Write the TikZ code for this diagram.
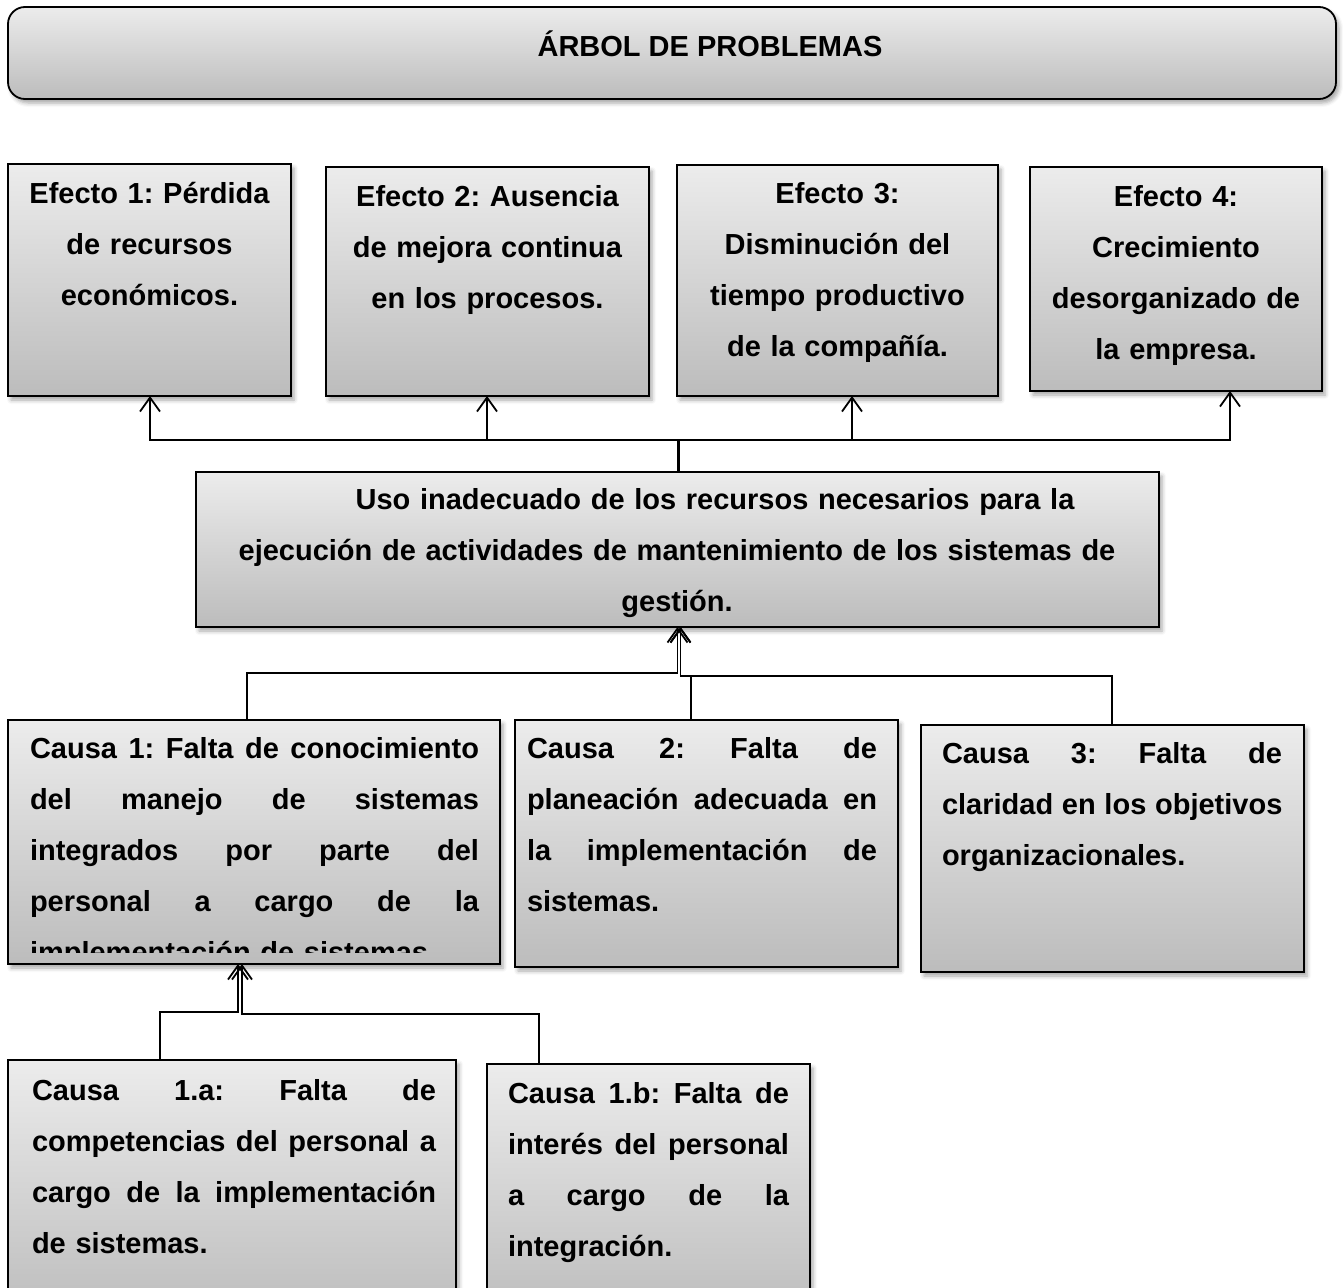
\documentclass[tikz,border=0pt]{standalone}
\usepackage{fontspec}
\setmainfont{Liberation Sans}
\usetikzlibrary{arrows.meta,shadows.blur,calc}
\definecolor{boxtop}{HTML}{ECECEC}
\definecolor{boxbot}{HTML}{BCBCBC}
\newcommand{\jl}[2]{\leavevmode\hbox to #1{\spaceskip=0.3em plus 10em\relax #2}}
\tikzset{
  box/.style={draw=black, line width=1.8pt, inner sep=0pt, outer sep=0pt,
    top color=boxtop, bottom color=boxbot, anchor=north west,
    blur shadow={shadow xshift=3pt, shadow yshift=-4pt, shadow blur radius=4pt, shadow opacity=35}},
  titlebox/.style={box, rounded corners=17pt},
  txt/.style={inner sep=0pt, outer sep=0pt, font=\frenchspacing\bfseries\fontsize{29}{51}\selectfont},
  ctxt/.style={txt, anchor=base, align=center},
  jtxt/.style={txt, anchor=base west, align=left},
  conn/.style={draw=black, line width=1.8pt, line join=miter},
  arr/.style={conn, -{Straight Barb[length=14pt,width=20pt]}}
}
\begin{document}
\begin{tikzpicture}[x=1pt,y=-1pt]
\useasboundingbox (0,0) rectangle (1343,1287);
% title
\node[titlebox, minimum width=1328pt, minimum height=92pt] (title) at (8,7) {};
\node[ctxt] (titlet) at (710,57) {ÁRBOL DE PROBLEMAS};
% effects
\node[box, minimum width=283pt, minimum height=232pt] (e1) at (8,164) {};
\node[box, minimum width=323pt, minimum height=229pt] (e2) at (326,167) {};
\node[box, minimum width=321pt, minimum height=231pt] (e3) at (677,165) {};
\node[box, minimum width=292pt, minimum height=224pt] (e4) at (1030,167) {};
\node[ctxt, text width=270pt] (e1t) at (149.5,203) {Efecto 1: Pérdida\\de recursos\\económicos.};
\node[ctxt, text width=310pt] (e2t) at (487.5,206) {Efecto 2: Ausencia\\de mejora continua\\en los procesos.};
\node[ctxt, text width=310pt] (e3t) at (837.5,203) {Efecto 3:\\Disminución del\\tiempo productivo\\de la compañía.};
\node[ctxt, text width=285pt] (e4t) at (1176,206) {Efecto 4:\\Crecimiento\\desorganizado de\\la empresa.};
% central problem
\node[box, minimum width=963pt, minimum height=155pt] (cen) at (196,472) {};
\node[ctxt, text width=950pt] (cent) at (677,509) {\hspace*{76pt}Uso inadecuado de los recursos necesarios para la\\ejecución de actividades de mantenimiento de los sistemas de\\gestión.};
% causes
\node[box, minimum width=492pt, minimum height=244pt] (c1) at (8,720) {};
\node[box, minimum width=383pt, minimum height=247pt] (c2) at (515,720) {};
\node[box, minimum width=383pt, minimum height=247pt] (c3) at (921,725) {};
\begin{scope}
\clip (8,720) rectangle (500,952);
\node[jtxt, text width=449pt] (c1t) at (30,758) {\jl{449pt}{Causa 1: Falta de conocimiento}\\\jl{449pt}{del manejo de sistemas}\\\jl{449pt}{integrados por parte del}\\\jl{449pt}{personal a cargo de la}\\implementación de sistemas.};
\end{scope}
\node[jtxt, text width=350pt] (c2t) at (527,758) {\jl{350pt}{Causa 2: Falta de}\\\jl{350pt}{planeación adecuada en}\\\jl{350pt}{la implementación de}\\sistemas.};
\node[jtxt, text width=340pt] (c3t) at (942,763) {\jl{340pt}{Causa 3: Falta de}\\\jl{340pt}{claridad en los objetivos}\\organizacionales.};
% sub-causes
\node[box, minimum width=448pt, minimum height=260pt] (c1a) at (8,1060) {};
\node[box, minimum width=323pt, minimum height=256pt] (c1b) at (487,1064) {};
\node[jtxt, text width=404pt] (c1at) at (32,1100) {\jl{404pt}{Causa 1.a: Falta de}\\\jl{404pt}{competencias del personal a}\\\jl{404pt}{cargo de la implementación}\\de sistemas.};
\node[jtxt, text width=281pt] (c1bt) at (508,1103) {\jl{281pt}{Causa 1.b: Falta de}\\\jl{281pt}{interés del personal}\\\jl{281pt}{a cargo de la}\\integración.};
% connectors: central -> effects
\coordinate (ha1) at (150,440);
\coordinate (ha2) at (487,440);
\coordinate (ha3) at (852,440);
\coordinate (ha4) at (1230,440);
\draw[arr] (cen.north) -- (cen.north |- ha1) -- (ha1) -- (ha1 |- e1.south);
\draw[arr] (cen.north) -- (cen.north |- ha2) -- (ha2) -- (ha2 |- e2.south);
\draw[arr] ($(cen.north)+(1.5,0)$) -- ($(cen.north |- ha3)+(1.5,0)$) -- (ha3) -- (ha3 |- e3.south);
\draw[arr] ($(cen.north)+(1.5,0)$) -- ($(cen.north |- ha4)+(1.5,0)$) -- (ha4) -- (ha4 |- e4.south);
% connectors: causes -> central
\coordinate (hb1) at (247,673);
\coordinate (hb2) at (691,676);
\coordinate (hb3) at (1112,676);
\coordinate (cb) at ($(cen.south)+(3,0)$);
\draw[arr] (hb1 |- c1.north) -- (hb1) -- (hb1 -| cen.south) -- (cen.south);
\draw[arr] (hb2 |- c2.north) -- (hb2) -- (hb2 -| cb) -- (cb);
\draw[arr] (hb3 |- c3.north) -- (hb3) -- (hb3 -| cb) -- (cb);
% connectors: sub-causes -> cause 1
\coordinate (hc1) at (160,1012);
\coordinate (hc2) at (539,1014);
\coordinate (ca) at (238,964);
\coordinate (cbb) at (242,964);
\draw[arr] (hc1 |- c1a.north) -- (hc1) -- (hc1 -| ca) -- (ca);
\draw[arr] (hc2 |- c1b.north) -- (hc2) -- (hc2 -| cbb) -- (cbb);
\end{tikzpicture}
\end{document}
